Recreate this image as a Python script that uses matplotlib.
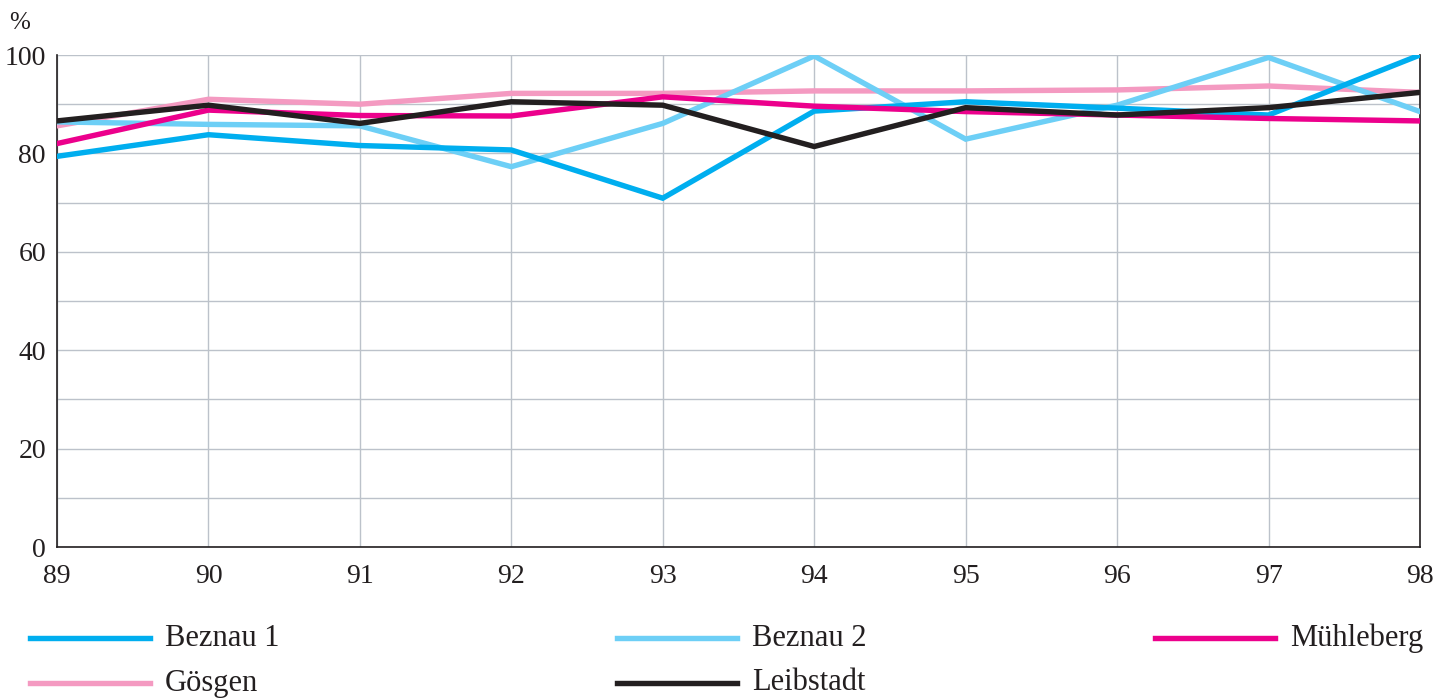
import numpy as np
import matplotlib
matplotlib.use('Agg')
import matplotlib.pyplot as plt
from matplotlib.lines import Line2D

years = [89, 90, 91, 92, 93, 94, 95, 96, 97, 98]
beznau1 = [79.4, 83.8, 81.6, 80.7, 70.9, 88.6, 90.5, 89.2, 87.8, 100.0]
beznau2 = [86.4, 85.9, 85.6, 77.3, 86.1, 99.8, 82.9, 89.8, 99.5, 88.5]
muehleberg = [82.0, 88.8, 87.7, 87.6, 91.5, 89.6, 88.5, 87.8, 87.1, 86.6]
goesgen = [85.6, 91.0, 90.0, 92.2, 92.2, 92.7, 92.7, 92.9, 93.7, 92.4]
leibstadt = [86.6, 89.8, 86.1, 90.5, 89.8, 81.4, 89.3, 87.8, 89.3, 92.4]

names = ["Beznau 1", "Beznau 2", "Mühleberg", "Gösgen", "Leibstadt"]
colors = ["#00AEEF", "#6DCFF6", "#EC008C", "#F49AC1", "#231F20"]
series = [beznau1, beznau2, muehleberg, goesgen, leibstadt]
# draw order (back to front)
order = [3, 1, 0, 2, 4]

plt.rcParams['font.family'] = ['Liberation Serif', 'DejaVu Serif']

fig = plt.figure(figsize=(14.47, 6.98), dpi=100)
ax = fig.add_axes([0.0394, 0.2163, 0.9419, 0.7049])

for i in order:
    ax.plot(years, series[i], color=colors[i], lw=3.9, solid_joinstyle='miter', zorder=3)

ax.set_xlim(89, 98)
ax.set_ylim(0, 100)
ax.set_xticks(years)
ax.set_yticks(np.arange(0, 101, 20))
ax.set_yticks(np.arange(0, 101, 10), minor=True)
ax.grid(True, which='both', color='#BCC2CA', lw=1.0, zorder=0)
ax.tick_params(which='both', length=0, labelsize=20, colors='#231F20')
ax.tick_params(axis='y', pad=8)
ax.tick_params(axis='x', pad=12)
for s in ['left', 'bottom', 'right']:
    ax.spines[s].set_color('#231F20')
    ax.spines[s].set_linewidth(1.2)
ax.spines['top'].set_visible(False)
ax.text(-0.035, 1.065, '%', transform=ax.transAxes, fontsize=18, color='#231F20',
        ha='left', va='center')

# legend drawn by hand, three columns
col_x = [30, 617, 1155]
row_y = [638, 683]
W, H = 1447, 698
for k in range(5):
    r, c = divmod(k, 3)
    x0 = col_x[c]
    y = 1 - row_y[r] / H
    fig.add_artist(Line2D([x0 / W, (x0 + 120) / W], [y, y], color=colors[k], lw=3.9,
                          transform=fig.transFigure))
    fig.text((x0 + 135) / W, y, names[k], fontsize=22, color='#231F20',
             ha='left', va='center')

plt.savefig('out.png', dpi=100)
